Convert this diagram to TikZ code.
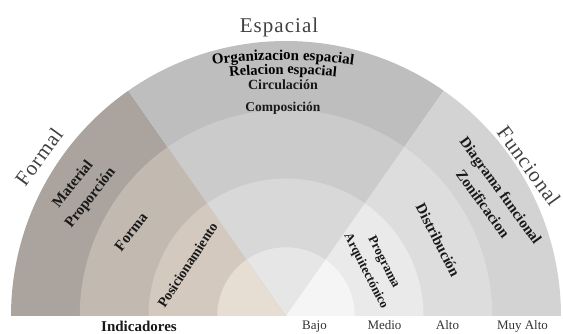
\documentclass[tikz,border=0pt]{standalone}
\usepackage{fontspec}
\setmainfont{Liberation Serif}
\newfontfamily\titlefont[LetterSpace=5]{Liberation Serif}
\newfontfamily\indfont{Liberation Serif}
\usetikzlibrary{decorations.text}
\definecolor{foMA}{HTML}{ABA49E}
\definecolor{foAL}{HTML}{C2B9B1}
\definecolor{foME}{HTML}{D4C9BE}
\definecolor{foBA}{HTML}{E7DED3}
\definecolor{esMA}{HTML}{BEBEBE}
\definecolor{esAL}{HTML}{CBCBCB}
\definecolor{esME}{HTML}{D8D8D8}
\definecolor{esBA}{HTML}{E6E6E6}
\definecolor{fuMA}{HTML}{D3D3D3}
\definecolor{fuAL}{HTML}{DDDDDD}
\definecolor{fuME}{HTML}{EAEAEA}
\definecolor{fuBA}{HTML}{F5F5F5}
\tikzset{
    titulo/.style={font=\titlefont\fontsize{21}{21}\selectfont,text=black!75,inner sep=0pt},
    indicador/.style={font=\indfont\bfseries\fontsize{15}{22}\selectfont,align=center,inner sep=0pt,text=black!90},
    nivel/.style={font=\fontsize{13}{13}\selectfont,anchor=base,inner sep=0pt,text=black!80}
}

\begin{document}
\begin{tikzpicture}[x=1pt,y=1pt]
        \useasboundingbox (0,0) rectangle (563,334);
        \coordinate (O) at (286,18);

        % formal
        \fill[foMA] (O) -- ++(125:275) arc (125:180:275) -- cycle;
        \fill[foAL] (O) -- ++(125:206.25) arc (125:180:206.25) -- cycle;
        \fill[foME] (O) -- ++(125:137.5) arc (125:180:137.5) -- cycle;
        \fill[foBA] (O) -- ++(125:68.75) arc (125:180:68.75) -- cycle;

        % espacial
        \fill[esMA] (O) -- ++(55:275) arc (55:125:275) -- cycle;
        \fill[esAL] (O) -- ++(55:206.25) arc (55:125:206.25) -- cycle;
        \fill[esME] (O) -- ++(55:137.5) arc (55:125:137.5) -- cycle;
        \fill[esBA] (O) -- ++(55:68.75) arc (55:125:68.75) -- cycle;

        % funcional
        \fill[fuMA] (O) -- ++(0:275) arc (0:55:275) -- cycle;
        \fill[fuAL] (O) -- ++(0:206.25) arc (0:55:206.25) -- cycle;
        \fill[fuME] (O) -- ++(0:137.5) arc (0:55:137.5) -- cycle;
        \fill[fuBA] (O) -- ++(0:68.75) arc (0:55:68.75) -- cycle;

        \node[titulo,anchor=base] (espacial) at (279,301) {Espacial};
        \node[titulo,rotate=54] (formal) at (39,177) {Formal};
        \node[titulo,rotate=-54] (funcional) at (529,168) {Funcional};

        \path[decorate,decoration={text along path,text align=center,
            text={|\indfont\bfseries\fontsize{15}{15}\selectfont|Organizacion espacial}}]
            ([shift={(100:500)}]283,-226) arc (100:80:500);
        \path[decorate,decoration={text along path,text align=center,
            text={|\indfont\bfseries\fontsize{14.5}{14.5}\selectfont|Relacion espacial}}]
            ([shift={(100:500)}]283,-240) arc (100:80:500);
        \node[indicador,anchor=base,font=\indfont\bfseries\fontsize{14}{14}\selectfont] (circulacion) at (283,244) {Circulación};
        \node[indicador,anchor=base,font=\indfont\bfseries\fontsize{13.5}{13.5}\selectfont] (composicion) at (283,222) {Composición};

        \node[indicador,rotate=52] (material) at (82,142.5) {Material\\Proporción};
        \node[indicador,rotate=52] (forma) at (131,102) {Forma};
        \node[indicador,rotate=57,font=\indfont\bfseries\fontsize{14}{14}\selectfont] (posicionamiento) at (187.5,69) {Posicionamiento};

        \node[indicador,rotate=-54] (diagrama) at (492,137) {Diagrama funcional\\Zonificacion};
        \node[indicador,rotate=-63] (distribucion) at (438,94) {Distribución};
        \node[indicador,rotate=-63,font=\indfont\bfseries\fontsize{13}{20}\selectfont] (programa) at (374.5,67) {Programa\\Arquitectónico};

        \node[indicador,anchor=base] (indicadores) at (139,2) {Indicadores};
        \node[nivel] (bajo) at (314.5,4) {Bajo};
        \node[nivel] (medio) at (384.5,4) {Medio};
        \node[nivel] (alto) at (447.5,4) {Alto};
        \node[nivel] (muyalto) at (522.5,4) {Muy Alto};
    \end{tikzpicture}
\end{document}
